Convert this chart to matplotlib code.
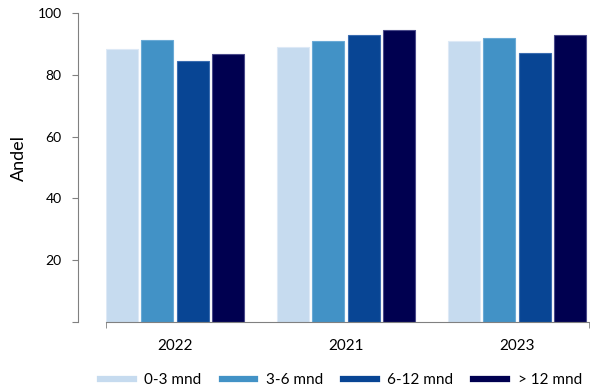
import numpy as np
from matplotlib import pyplot as plt

plt.rcParams['font.family'] = ['Lato', 'DejaVu Sans']

years = ['2022', '2021', '2023']
series = ['0-3 mnd', '3-6 mnd', '6-12 mnd', '> 12 mnd']
values = np.array([[88.3, 89.0, 91.1],
                   [91.2, 90.8, 91.8],
                   [84.4, 92.9, 86.9],
                   [86.8, 94.4, 92.9]])
colors = ['#c6dbef', '#4292c6', '#084594', '#000050']
edges = ['#dde9f6', '#6aaad6', '#3a6cb0', '#4a4a8a']

fig = plt.figure(figsize=(5.9, 3.92), dpi=100)
ax = fig.add_axes([106/590, 1 - 322/392, (589-106)/590, (322-13)/392])

x = np.arange(len(years))
pitch = 0.2076
width = 0.187
for i, name in enumerate(series):
    ax.bar(x + (i - 1.5) * pitch, values[i], width, color=colors[i],
           edgecolor=edges[i], linewidth=0.8, label=name)

ax.set_xlim(-0.405, 2.421)
ax.set_ylim(0, 100)
ax.set_yticks([0, 20, 40, 60, 80, 100])
ax.set_yticklabels(['', '20', '40', '60', '80', '100'], fontsize=12)
ax.set_xticks(x)
ax.set_xticklabels(years, fontsize=11)
ax.tick_params(axis='x', length=0, pad=12)
ax.tick_params(axis='y', length=4, color='#808080', pad=8)
ax.set_xticks([-0.405, 2.421], minor=True)
ax.tick_params(axis='x', which='minor', length=4, color='#808080')

for s in ['top', 'right']:
    ax.spines[s].set_visible(False)
ax.spines['left'].set_position(('outward', 20))
ax.spines['left'].set_color('#808080')
ax.spines['bottom'].set_color('#808080')

ax.set_ylabel('Andel', fontsize=13)
ax.yaxis.set_label_coords(-0.164, 0.53)

handles = [plt.Line2D([], [], color=c, linewidth=4.5) for c in colors]
fig.legend(handles, series, loc='center', bbox_to_anchor=(341/590, 1 - 380/392),
           ncol=4, frameon=False, fontsize=11, handlelength=2.2,
           columnspacing=1.3, handletextpad=0.7)

fig.savefig('out.png', dpi=100)
